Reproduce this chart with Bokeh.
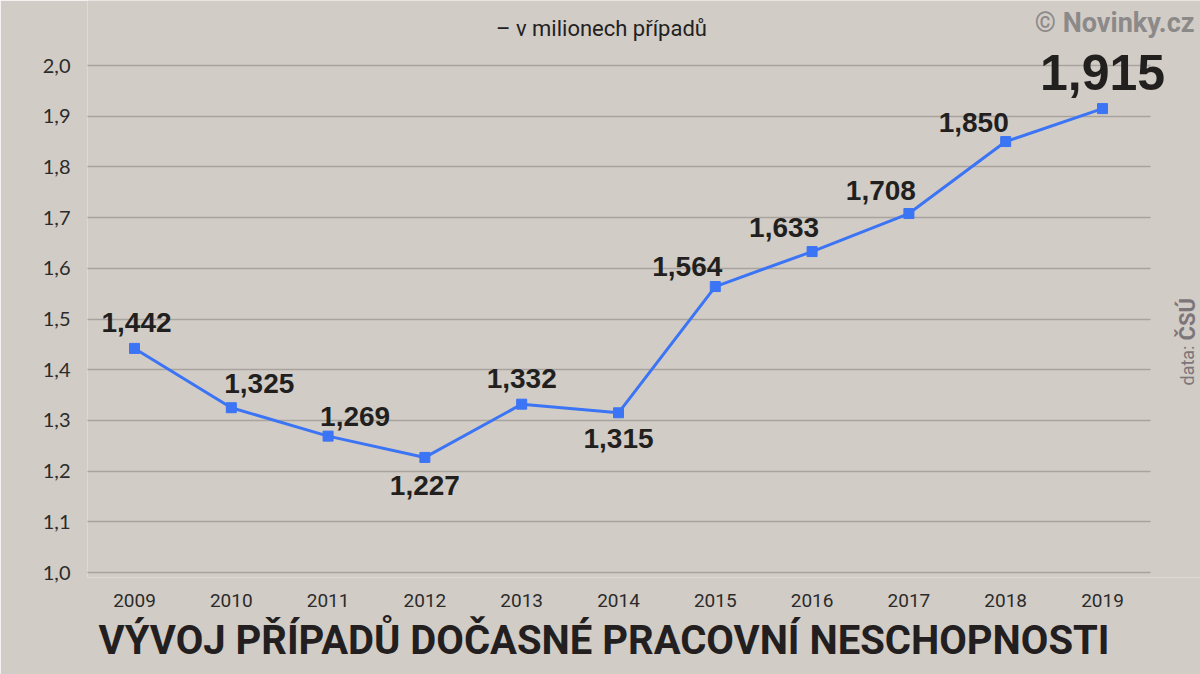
import math
from bokeh.plotting import figure
from bokeh.models import ColumnDataSource, Label, FixedTicker, CustomJSTickFormatter, Range1d, Title
from bokeh.core.properties import value
from bokeh.embed import file_html
from bokeh.resources import INLINE

# ---- data ----
years = [2009, 2010, 2011, 2012, 2013, 2014, 2015, 2016, 2017, 2018, 2019]
cases = [1.442, 1.325, 1.269, 1.227, 1.332, 1.315, 1.564, 1.633, 1.708, 1.850, 1.915]
y_ticks = [1.0, 1.1, 1.2, 1.3, 1.4, 1.5, 1.6, 1.7, 1.8, 1.9, 2.0]
title_text = "VÝVOJ PŘÍPADŮ DOČASNÉ PRACOVNÍ NESCHOPNOSTI"
subtitle_text = "– v milionech případů"
source_text = "ČSÚ"
credit_text = "© Novinky.cz"

# ---- label styling (offsets in screen px, font sizes) ----
label_dx = [2, 28, 27, 0, 0, 0, -28, -28, -28, -32, 0]
label_dy = [-26, -24, -20, 28, -26, 26, -20, -24, -23, -19, -36]
label_fs = ["28px"] * 10 + ["50px"]

labels = [f"{v:.3f}".replace(".", ",") for v in cases]

BG = "#d2ccc6"
W, H = 1200, 674
ML, MR, MT, MB = 87, 0, 0, 97
XPX = 96.8   # px per year
YPX = 507.0  # px per unit
fw = W - ML - MR
fh = H - MT - MB
X0 = 2014 - (618 - ML) / XPX
X1 = X0 + fw / XPX
Y0 = 1.0 - (MT + fh - 572) / YPX
Y1 = Y0 + fh / YPX

p = figure(width=W, height=H, output_backend="svg", toolbar_location=None,
           title=None,
           x_range=Range1d(X0, X1), y_range=Range1d(Y0, Y1),
           min_border_left=ML, min_border_right=MR,
           min_border_top=MT, min_border_bottom=MB)
p.background_fill_color = BG
p.border_fill_color = BG
p.outline_line_color = None


def px_x(page_x):
    return X0 + (page_x - ML) / XPX


def px_y(page_y):
    return Y1 - (page_y - MT) / YPX


# axes
p.yaxis.ticker = FixedTicker(ticks=y_ticks)
p.yaxis.formatter = CustomJSTickFormatter(code="return tick.toFixed(1).replace('.', ',');")
p.xaxis.ticker = FixedTicker(ticks=years)
p.xaxis.formatter = CustomJSTickFormatter(code="return tick.toFixed(0);")
for ax in (p.xaxis[0], p.yaxis[0]):
    ax.axis_line_color = None
    ax.major_tick_line_color = None
    ax.minor_tick_line_color = None
    ax.major_tick_out = 0
    ax.major_tick_in = 0
    ax.major_label_text_color = "#2b2b2b"
p.yaxis.major_label_text_font = "Lato"
p.yaxis.major_label_text_font_size = "20px"
p.yaxis.major_label_standoff = 17
p.xaxis.major_label_text_font = "Roboto"
p.xaxis.major_label_text_font_size = "19px"
p.xaxis.major_label_standoff = 16

p.xgrid.visible = False
p.ygrid.grid_line_color = "#a8a39e"
p.ygrid.grid_line_width = 1.5
p.ygrid.cross_bounds = (years[0] - 0.5, years[-1] + 0.5)

src = ColumnDataSource(dict(year=years, cases=cases, label=labels,
                            dx=label_dx, dy=label_dy, fs=label_fs))

p.line(x="year", y="cases", source=src, line_color="#3b74f4", line_width=3)
p.scatter(x="year", y="cases", source=src, marker="square", size=10,
          fill_color="#3b74f4", line_color="#3b74f4", line_width=1, line_join="round")
p.text(x="year", y="cases", text="label", source=src, x_offset="dx", y_offset="dy",
       text_align="center", text_baseline="middle", text_font=value("Liberation Sans"),
       text_font_style="bold", text_font_size="fs", text_color="#221f1f")

# annotations
p.add_layout(Label(x=px_x(601), y=px_y(28), text=subtitle_text, text_align="center",
                   text_baseline="middle", text_font="Roboto", text_font_size="22px",
                   text_color="#222222"))
p.add_layout(Label(x=px_x(1194), y=px_y(22), text=credit_text, text_align="right",
                   text_baseline="middle", text_font="Roboto", text_font_style="bold",
                   text_font_size="27px", text_color="#8c8989"))
p.add_layout(Label(x=px_x(1187), y=px_y(385), text="data:", text_align="left",
                   text_baseline="middle", angle=math.pi / 2, text_font="Roboto",
                   text_font_size="18px", text_color="#7c767a"))
p.add_layout(Label(x=px_x(1187), y=px_y(340), text=source_text, text_align="left",
                   text_baseline="middle", angle=math.pi / 2, text_font="Roboto",
                   text_font_style="bold", text_font_size="22px", text_color="#7c767a"))

t = Title(text=title_text, align="left", offset=11,
          text_font="Roboto", text_font_style="bold", text_font_size="40px",
          text_color="#231f20", standoff=10)
p.add_layout(t, "below")

open("out.html", "w").write(file_html(p, INLINE))
